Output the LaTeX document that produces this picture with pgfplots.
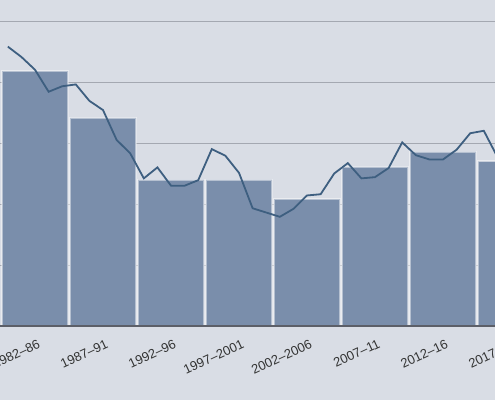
\documentclass[border=0pt]{standalone}
\usepackage{fontspec}
\setmainfont{Liberation Sans}
\usepackage{pgfplots}
\pgfplotsset{compat=1.18}
\definecolor{bg}{HTML}{D9DDE5}
\definecolor{barc}{HTML}{7A8EAB}
\definecolor{linec}{HTML}{3E5F80}
\definecolor{gridc}{HTML}{A4A8B1}
\definecolor{axc}{HTML}{5C5F68}
\definecolor{txt}{HTML}{333333}
\begin{document}
\begin{tikzpicture}
\begin{axis}[
  at={(0,0)}, anchor=south west,
  scale only axis, width=545.02bp, height=326bp,
  set layers, clip=false,
  xmin=-0.515, xmax=7.5, ymin=0, ymax=5.344,
  axis x line*=bottom, axis y line*=left,
  x axis line style={draw=none},
  y axis line style={draw=none},
  ytick={1,2,3,4,5}, yticklabels={}, ytick style={draw=none},
  ymajorgrids, grid style={gridc, line width=0.9bp},
  xtick={0,...,7},
  xticklabels={1982–86,1987–91,1992–96,1997–2001,2002–2006,2007–11,2012–16,2017–21},
  xtick style={draw=none},
  xticklabel style={rotate=25, anchor=north east, xshift=0bp, yshift=-9bp,
    font=\fontsize{13}{15}\selectfont, text=txt},
]
\begin{pgfonlayer}{axis background}
  \fill[bg] ([yshift=-74bp]rel axis cs:0,0) rectangle (rel axis cs:1,1);
\end{pgfonlayer}
\addplot[ybar, bar width=0.97, fill=barc, draw=white, draw opacity=0.45, line width=2bp]
  coordinates {(0,4.18) (1,3.41) (2,2.40) (3,2.40) (4,2.08) (5,2.61) (6,2.86) (7,2.70)};
\addplot[linec, line width=1.8bp, sharp plot, no markers] coordinates {
  (-0.4,4.58) (-0.2,4.41) (0,4.20) (0.2,3.84) (0.4,3.93)
  (0.6,3.96) (0.8,3.69) (1.0,3.54) (1.2,3.05) (1.4,2.83)
  (1.6,2.42) (1.8,2.60) (2.0,2.30) (2.2,2.30) (2.4,2.39)
  (2.6,2.90) (2.8,2.79) (3.0,2.51) (3.2,1.93) (3.4,1.86)
  (3.6,1.79) (3.8,1.92) (4.0,2.14) (4.2,2.16) (4.4,2.50)
  (4.6,2.67) (4.8,2.42) (5.0,2.44) (5.2,2.59) (5.4,3.01)
  (5.6,2.80) (5.8,2.73) (6.0,2.73) (6.2,2.89) (6.4,3.16)
  (6.6,3.20) (6.8,2.77)};
\begin{pgfonlayer}{axis foreground}
  \draw[axc, line width=1.6bp] (rel axis cs:0,0) -- (rel axis cs:1,0);
\end{pgfonlayer}
\end{axis}
\pgfresetboundingbox
\useasboundingbox (0,-74bp) rectangle (495bp,326bp);
\end{tikzpicture}
\end{document}
